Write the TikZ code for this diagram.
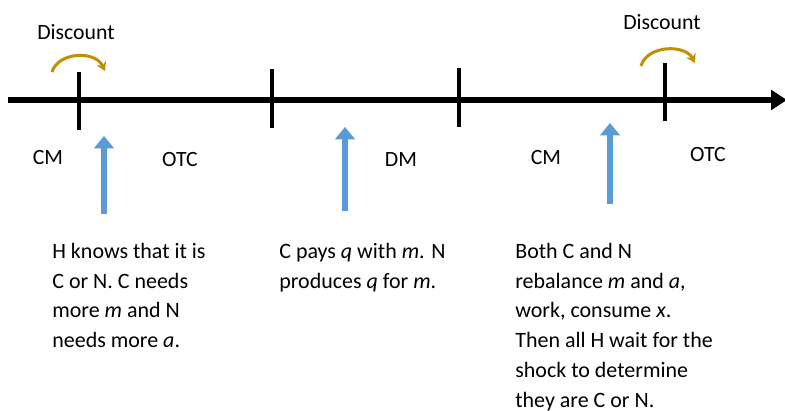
\documentclass[tikz,border=0pt]{standalone}
\usepackage{fontspec}
\setmainfont{Carlito}
\usepackage{xcolor}
\usetikzlibrary{arrows.meta, positioning}
\definecolor{shockblue}{RGB}{91,155,213}
\definecolor{discgold}{RGB}{191,144,0}
\tikzset{
  tick/.style={line width=2pt, black},
  shock/.style={line width=3.4pt, shockblue, -{Triangle[length=7pt, width=11pt]}},
  disc/.style={line width=1.7pt, discgold, -{Stealth[length=5pt, width=6pt]}},
  lbl/.style={font=\fontsize{12.4}{15}\selectfont, inner sep=0pt},
  txt/.style={font=\fontsize{12.5}{16.9}\selectfont, align=left, anchor=north west, inner sep=0pt}
}

\begin{document}
\begin{tikzpicture}[x=0.02cm, y=-0.02cm]
\useasboundingbox (0,0) rectangle (785,411);

% time line
\coordinate (start) at (8,100);
\coordinate (end) at (787,100);
\draw[line width=3pt, -{Triangle[length=9pt, width=11pt]}] (start) -- (end);

% ticks
\draw[tick] (79,72) -- (79,130);
\draw[tick] (272,69) -- (272,128);
\draw[tick] (459,68) -- (459,127);
\draw[tick] (665,63) -- (665,121);

% discounting
\node[lbl] (disc1) at (76,32) {Discount};
\node[lbl] (disc2) at (662,22) {Discount};
\coordinate (d1a) at (52,72);
\coordinate (d1b) at (105,71);
\coordinate (d2a) at (641,66);
\coordinate (d2b) at (695,63);
\draw[disc] (d1a) .. controls (58,52) and (95,50) .. (d1b);
\draw[disc] (d2a) .. controls (647,45) and (685,44) .. (d2b);

% markets
\node[lbl] (cm1) at (48,158) {CM};
\node[lbl] (otc1) at (180,160) {OTC};
\node[lbl] (dm) at (401,160) {DM};
\node[lbl] (cm2) at (546,158) {CM};
\node[lbl] (otc2) at (708,155) {OTC};

% shocks
\coordinate (s1) at (104,214);
\coordinate (s2) at (345,211);
\coordinate (s3) at (610,204);
\draw[shock] (s1) -- ++(0,-78);
\draw[shock] (s2) -- ++(0,-84);
\draw[shock] (s3) -- ++(0,-81);

% what happens
\node[txt] (t1) at (52,243) {H knows that it is\\C or N. C needs\\more \textit{m} and N\\needs more \textit{a}.};
\node[txt] (t2) at (279,243) {C pays \textit{q} with \textit{m}. N\\produces \textit{q} for \textit{m}.};
\node[txt] (t3) at (515,243) {Both C and N\\rebalance \textit{m} and \textit{a},\\work, consume \textit{x}.\\Then all H wait for the\\shock to determine\\they are C or N.};
\end{tikzpicture}
\end{document}
